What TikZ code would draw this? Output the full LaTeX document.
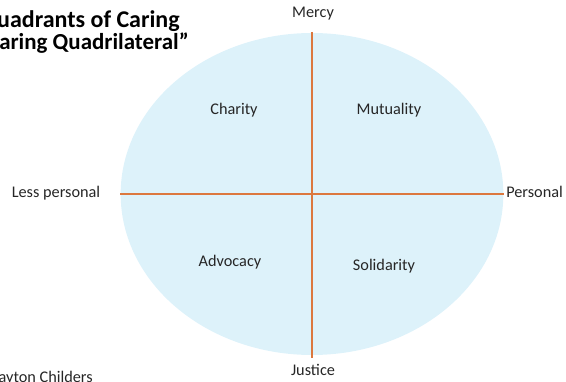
\documentclass[tikz,border=0pt]{standalone}
\usepackage{fontspec}
\setmainfont{Carlito}
\usetikzlibrary{shapes,positioning}
\definecolor{paleblue}{RGB}{221,242,250}
\definecolor{axisorange}{RGB}{220,120,62}
\tikzset{
    x=0.75pt,y=-0.75pt,
    pole/.style={font=\fontsize{12.2}{14}\selectfont, text=black!85},
    quad/.style={font=\fontsize{12.2}{14}\selectfont, text=black!85},
    axis/.style={draw=axisorange, line width=1pt},
    heading/.style={font=\bfseries\fontsize{18}{20}\selectfont, anchor=east, inner sep=0pt},
    oval/.style={ellipse, fill=paleblue, inner sep=0pt, minimum width=287pt, minimum height=241.5pt}
}
\begin{document}
\begin{tikzpicture}
    \clip (0,0) rectangle (566,381);

    \node[oval] (field) at (312,194) {};
    \coordinate (mercyend) at (312,32);
    \coordinate (justiceend) at (312,358);

    \path[axis] (field.west) -- (field.east);
    \path[axis] (mercyend) -- (justiceend);

    \node[pole] (mercy) at (313,14) {Mercy};
    \node[pole] (justice) at (313,370) {Justice};
    \node[pole] (less) at (56,193) {Less personal};
    \node[pole, anchor=west, inner sep=0pt] (personal) at (506,192) {Personal};

    \node[quad] (charity) at (234,110) {Charity};
    \node[quad] (mutuality) at (389,110) {Mutuality};
    \node[quad] (advocacy) at (230,262) {Advocacy};
    \node[quad] (solidarity) at (384,266) {Solidarity};

    \node[heading] (title) at (180,21) {Quadrants of Caring};
    \node[heading, font=\bfseries\fontsize{17.2}{20}\selectfont] (subtitle) at (189,43) {``Caring Quadrilateral''};
    \node[pole, anchor=east, inner sep=0pt] (author) at (93,378) {Clayton Childers};
\end{tikzpicture}
\end{document}
